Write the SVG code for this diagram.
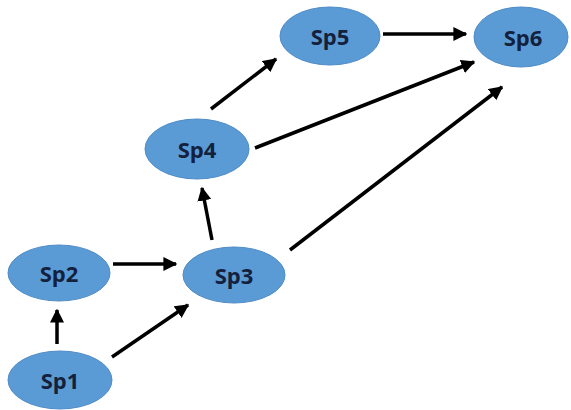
<svg xmlns="http://www.w3.org/2000/svg" width="571" height="410" viewBox="0 0 571 410">
<defs>
<marker id="ah" viewBox="0 0 10 10" refX="9" refY="5" markerWidth="4" markerHeight="4" orient="auto" markerUnits="strokeWidth">
<path d="M0,0 L10,5 L0,10 z" fill="#000"/>
</marker>
</defs>
<style>
.n ellipse{fill:#5b9bd5;stroke:#4f8cc6;stroke-width:1}
.n text{font-family:"Open Sans","Liberation Sans",sans-serif;font-weight:bold;font-size:22px;fill:#14213d;text-anchor:middle;dominant-baseline:central}
.e line{stroke:#000;stroke-width:3.5;marker-end:url(#ah)}
</style>
<rect width="571" height="410" fill="#fff"/>
<g id="edges" class="e">
<line x1="57" y1="344" x2="57" y2="310"/>
<line x1="112" y1="357" x2="188" y2="305"/>
<line x1="113" y1="264" x2="176" y2="264"/>
<line x1="212" y1="240" x2="202" y2="188"/>
<line x1="290" y1="250" x2="502" y2="87"/>
<line x1="211" y1="109" x2="276" y2="59"/>
<line x1="255" y1="148" x2="474" y2="62"/>
<line x1="383" y1="34" x2="466" y2="34"/>
</g>
<g id="sp1" class="n"><ellipse cx="60" cy="380" rx="52" ry="29"/><text x="60" y="380">Sp1</text></g>
<g id="sp2" class="n"><ellipse cx="59" cy="273" rx="51" ry="28"/><text x="59" y="273">Sp2</text></g>
<g id="sp3" class="n"><ellipse cx="234" cy="275" rx="51" ry="28"/><text x="234" y="275">Sp3</text></g>
<g id="sp4" class="n"><ellipse cx="197" cy="149" rx="52" ry="30"/><text x="197" y="149">Sp4</text></g>
<g id="sp5" class="n"><ellipse cx="330" cy="36" rx="50" ry="29"/><text x="330" y="36">Sp5</text></g>
<g id="sp6" class="n"><ellipse cx="521" cy="37" rx="47" ry="30"/><text x="523" y="37">Sp6</text></g>
</svg>
